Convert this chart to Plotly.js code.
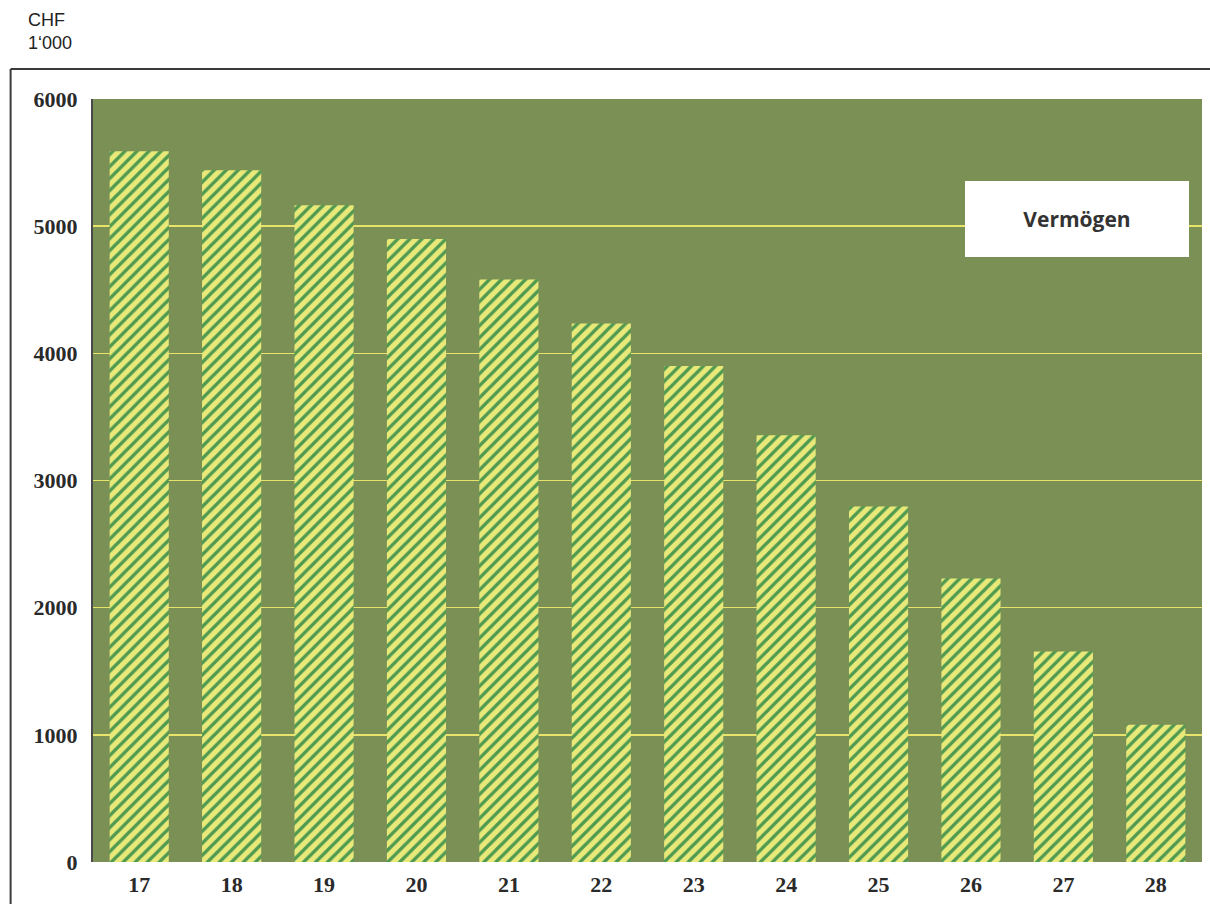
<!DOCTYPE html>
<html>
<head>
<meta charset="utf-8">
<script src="https://cdn.plot.ly/plotly-3.0.1.min.js"></script>
<style>
  html, body { margin: 0; padding: 0; background: #ffffff; }
  #chart { width: 1210px; height: 904px; }
</style>
</head>
<body>
<div id="chart"></div>
<script>
// Jahre (Alter) und Vermögen in CHF 1'000
const years = ['17', '18', '19', '20', '21', '22', '23', '24', '25', '26', '27', '28'];
const assets = [5590, 5440, 5165, 4900, 4580, 4235, 3900, 3355, 2795, 2230, 1655, 1080];
const yTicks = [0, 1000, 2000, 3000, 4000, 5000, 6000];

const tickFont = { family: 'Liberation Serif, DejaVu Serif, serif', size: 22, color: '#2a2a2a', weight: 'bold' };

const trace = {
  type: 'bar',
  x: years,
  y: assets,
  width: 0.64,
  marker: {
    color: '#e9e97a',
    line: { width: 0 },
    pattern: {
      shape: '/',
      fgcolor: '#4f9a50',
      bgcolor: '#e9e97a',
      fillmode: 'replace',
      size: 8.5,
      solidity: 0.4
    }
  },
  hoverinfo: 'x+y',
  showlegend: false
};

const layout = {
  width: 1210,
  height: 904,
  margin: { l: 93, r: 8, t: 99, b: 42 },
  paper_bgcolor: '#ffffff',
  plot_bgcolor: '#7b9055',
  bargap: 0.36,
  xaxis: {
    type: 'category',
    showgrid: false,
    zeroline: false,
    showline: false,
    ticks: '',
    ticklen: 0,
    tickfont: tickFont,
    ticklabelstandoff: 7
  },
  yaxis: {
    range: [0, 6000],
    tickvals: yTicks,
    ticktext: yTicks.map(String),
    showgrid: true,
    gridcolor: '#e8e36a',
    gridwidth: 1.5,
    zeroline: false,
    showline: true,
    linecolor: '#4a4a4a',
    linewidth: 2,
    ticks: '',
    tickfont: tickFont,
    ticklabelstandoff: 9
  },
  shapes: [
    // Rahmen des Diagrammbereichs
    { type: 'line', xref: 'paper', yref: 'paper', x0: -0.0743, x1: 1.02, y0: 1.0393, y1: 1.0393,
      line: { color: '#3a3a3a', width: 2 } },
    { type: 'line', xref: 'paper', yref: 'paper', x0: -0.0743, x1: -0.0743, y0: 1.0393, y1: -0.07,
      line: { color: '#3a3a3a', width: 2 } }
  ],
  annotations: [
    { xref: 'paper', yref: 'paper', x: -0.0605, y: 1.1193, xanchor: 'left', yanchor: 'top',
      text: 'CHF<br>1‘000', showarrow: false, align: 'left',
      font: { family: 'Liberation Sans, Arial, sans-serif', size: 18, color: '#222222' } },
    { xref: 'paper', yref: 'paper', x: 0.887, y: 0.8427, xanchor: 'center', yanchor: 'middle',
      text: '<b>Vermögen</b>', showarrow: false,
      width: 222, height: 74, bgcolor: '#ffffff', borderwidth: 0,
      font: { family: 'Open Sans, DejaVu Sans, sans-serif', size: 21, color: '#333333' } }
  ]
};

Plotly.newPlot('chart', [trace], layout, { displayModeBar: false, staticPlot: true });
</script>
</body>
</html>
